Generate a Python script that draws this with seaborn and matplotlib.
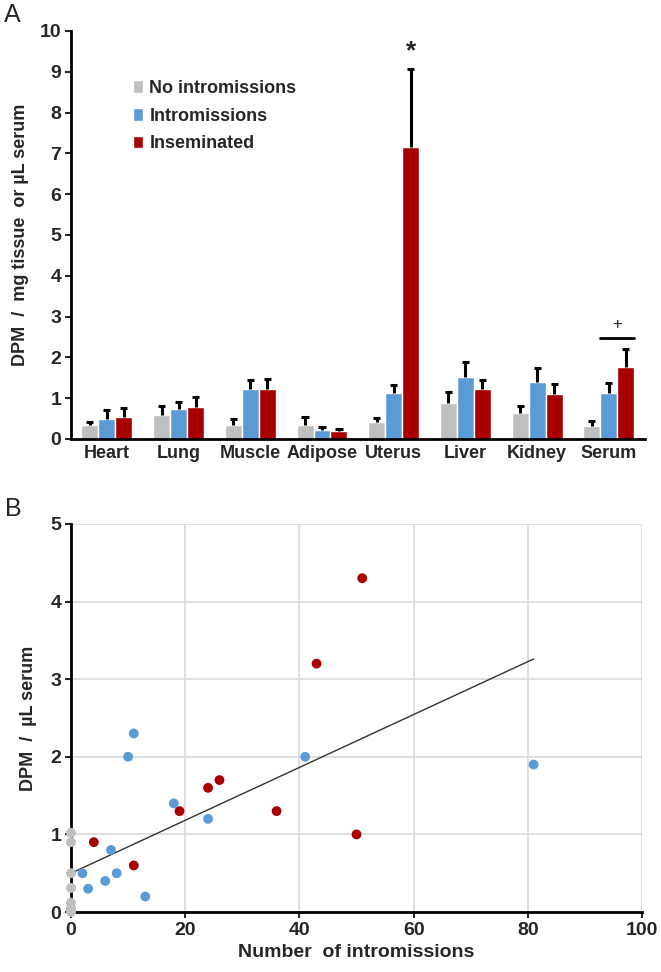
import numpy as np
import pandas as pd
import matplotlib
matplotlib.use('Agg')
import matplotlib.pyplot as plt
import seaborn as sns

# panel A data (mean and upper error)
tissues = ['Heart', 'Lung', 'Muscle', 'Adipose', 'Uterus', 'Liver', 'Kidney', 'Serum']
groups = ['No intromissions', 'Intromissions', 'Inseminated']
no_intro = [0.35, 0.59, 0.35, 0.35, 0.41, 0.89, 0.63, 0.32]
intro = [0.50, 0.73, 1.22, 0.22, 1.12, 1.52, 1.40, 1.12]
insem = [0.54, 0.79, 1.22, 0.19, 7.15, 1.22, 1.09, 1.77]
no_intro_err = [0.07, 0.22, 0.14, 0.20, 0.10, 0.26, 0.17, 0.13]
intro_err = [0.21, 0.18, 0.23, 0.08, 0.20, 0.37, 0.35, 0.24]
insem_err = [0.23, 0.25, 0.26, 0.05, 1.92, 0.23, 0.25, 0.43]

# panel B data
gray_x = [0, 0, 0, 0, 0, 0, 0, 0]
gray_y = [1.02, 0.9, 0.5, 0.31, 0.12, 0.05, 0.02, 0.0]
blue_x = [2, 3, 6, 7, 8, 10, 11, 13, 18, 24, 41, 81]
blue_y = [0.5, 0.3, 0.4, 0.8, 0.5, 2.0, 2.3, 0.2, 1.4, 1.2, 2.0, 1.9]
red_x = [4, 11, 19, 24, 26, 36, 43, 50, 51]
red_y = [0.9, 0.6, 1.3, 1.6, 1.7, 1.3, 3.2, 1.0, 4.3]
fit_x = [0, 81]
fit_y = [0.5, 3.26]

colors = ['#BFBFBF', '#5B9BD5', '#A80000']

sns.set_style('white')
plt.rcParams['font.family'] = ['Liberation Sans', 'DejaVu Sans']
plt.rcParams['font.weight'] = 'bold'

fig = plt.figure(figsize=(6.61, 9.72), dpi=100)

# ---------- A ----------
axA = fig.add_axes([0.1074, 0.5484, 0.868, 0.4198])
dfA = pd.DataFrame({
    'tissue': tissues * 3,
    'group': [g for g in groups for _ in tissues],
    'value': no_intro + intro + insem,
})
sns.barplot(data=dfA, x='tissue', y='value', hue='group', hue_order=groups,
            palette=colors, errorbar=None, width=0.71, saturation=1,
            ax=axA)
# upper-only error bars
for cont, err in zip(axA.containers, [no_intro_err, intro_err, insem_err]):
    xs = np.array([p.get_x() + p.get_width() / 2 for p in cont.patches])
    hs = np.array([p.get_height() for p in cont.patches])
    tops = hs + np.array(err)
    axA.vlines(xs, hs, tops, color='black', lw=2.2, zorder=4)
    axA.hlines(tops, xs - 0.05, xs + 0.05, color='black', lw=2.2, zorder=4)

axA.set_ylim(0, 10)
axA.set_xlim(-0.5, 7.5)
axA.set_yticks(range(0, 11))
axA.set_xlabel('')
axA.set_ylabel('DPM  /  mg tissue  or µL serum', fontsize=13, fontweight='bold',
                labelpad=8)
axA.tick_params(axis='y', labelsize=14, length=4, width=1.5, left=True, pad=3)
axA.tick_params(axis='x', labelsize=13, length=0, pad=4)
for lab in axA.get_xticklabels() + axA.get_yticklabels():
    lab.set_fontweight('bold')
sns.despine(ax=axA)
axA.spines['left'].set_linewidth(2)
axA.spines['bottom'].set_linewidth(2)
axA.spines['left'].set_color('black')
axA.spines['bottom'].set_color('black')

leg = axA.legend(loc='upper left', bbox_to_anchor=(0.08, 0.92), frameon=False,
                 fontsize=13, handlelength=0.55, handleheight=0.7,
                 handletextpad=0.35, labelspacing=0.6)
for t in leg.get_texts():
    t.set_fontweight('bold')

# significance marks
uterus_red = axA.containers[2].patches[4]
axA.text(uterus_red.get_x() + uterus_red.get_width() / 2, 9.5, '*',
         ha='center', va='center', fontsize=19, fontweight='bold')
serum_blue = axA.containers[1].patches[7]
serum_red = axA.containers[2].patches[7]
axA.plot([serum_blue.get_x(), serum_red.get_x() + serum_red.get_width()],
         [2.48, 2.48], color='black', lw=2)
axA.text((serum_blue.get_x() + serum_red.get_x() + serum_red.get_width()) / 2, 2.8,
         '+', ha='center', va='center', fontsize=12, fontweight='normal')

fig.text(0.006, 0.997, 'A', fontsize=18, fontweight='normal', va='top')

# ---------- B ----------
axB = fig.add_axes([0.1074, 0.0617, 0.864, 0.3993])
dfB = pd.DataFrame({
    'n': gray_x + blue_x + red_x,
    'dpm': gray_y + blue_y + red_y,
    'group': ['none'] * len(gray_x) + ['intro'] * len(blue_x) + ['insem'] * len(red_x),
})
sns.lineplot(x=fit_x, y=fit_y, color='#333333', lw=1, ax=axB)
sns.scatterplot(data=dfB, x='n', y='dpm', hue='group',
                palette={'none': colors[0], 'intro': colors[1], 'insem': colors[2]},
                s=50, edgecolor='none', legend=False, clip_on=False, zorder=3,
                ax=axB)
axB.set_xlim(0, 100)
axB.set_ylim(0, 5)
axB.set_xticks(range(0, 101, 20))
axB.set_yticks(range(0, 6))
axB.grid(True, color='#D9D9D9', lw=1.2)
axB.set_axisbelow(True)
for s in ['top', 'right']:
    axB.spines[s].set_visible(False)
axB.spines['left'].set_linewidth(2)
axB.spines['bottom'].set_linewidth(2)
axB.spines['left'].set_color('black')
axB.spines['bottom'].set_color('black')
axB.tick_params(axis='both', labelsize=14, length=4, width=1.5,
                left=True, bottom=True, pad=3)
for lab in axB.get_xticklabels() + axB.get_yticklabels():
    lab.set_fontweight('bold')
axB.set_xlabel('Number  of intromissions', fontsize=14, fontweight='bold',
               labelpad=4)
axB.set_ylabel('DPM  /  µL serum', fontsize=13, fontweight='bold', labelpad=10)

fig.text(0.008, 0.476, 'B', fontsize=18, fontweight='normal', va='center')

fig.savefig('out.png', dpi=100)
